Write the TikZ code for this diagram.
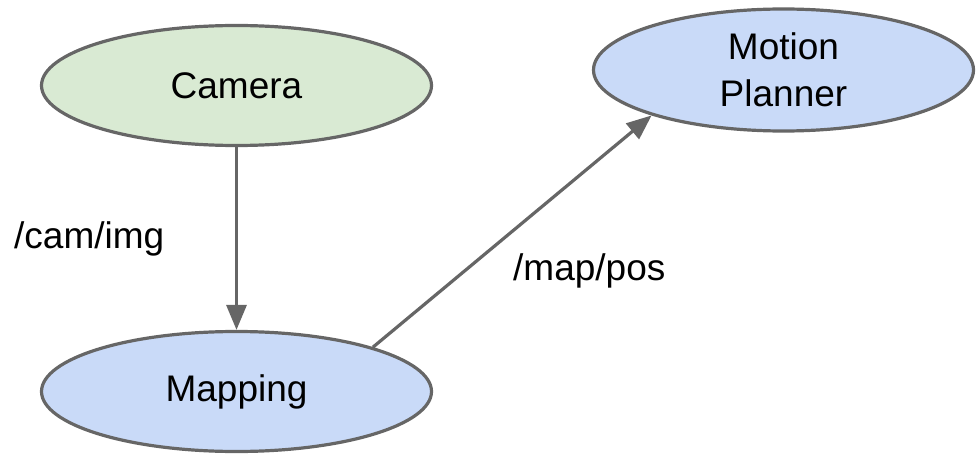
\documentclass[tikz,border=0pt]{standalone}
\usepackage{fontspec}
\setmainfont{Liberation Sans}
\usetikzlibrary{shapes.geometric,arrows.meta}
\definecolor{linegray}{HTML}{666666}
\definecolor{camgreen}{HTML}{D9EAD3}
\definecolor{nodeblue}{HTML}{C9DAF8}
\begin{document}
\begin{tikzpicture}[x=1pt, y=1pt, font=\fontsize{37}{47}\selectfont,
    proc/.style={ellipse, draw=linegray, line width=3.2pt, inner sep=0pt, minimum width=390pt, minimum height=120pt, align=center},
    lbl/.style={anchor=base west, inner sep=0pt},
    arr/.style={draw=linegray, line width=3.2pt, -{Triangle[length=25pt,width=20pt]}}]
    \useasboundingbox (0,0) rectangle (976,456);
    \node[proc, fill=camgreen] (cam) at (236.5,370.5) {Camera};
    \node[proc, fill=nodeblue] (map) at (236.5,64.5) {Mapping};
    \node[proc, fill=nodeblue, minimum width=380pt, minimum height=122pt] (plan) at (783.5,386) {Motion\\Planner};
    \node[lbl] (camimg) at (14,208) {/cam/img};
    \node[lbl] (mappos) at (513,176) {/map/pos};
    \draw[arr] (cam) -- (map);
    \draw[arr] (map.18) -- (plan.199);
\end{tikzpicture}
\end{document}
